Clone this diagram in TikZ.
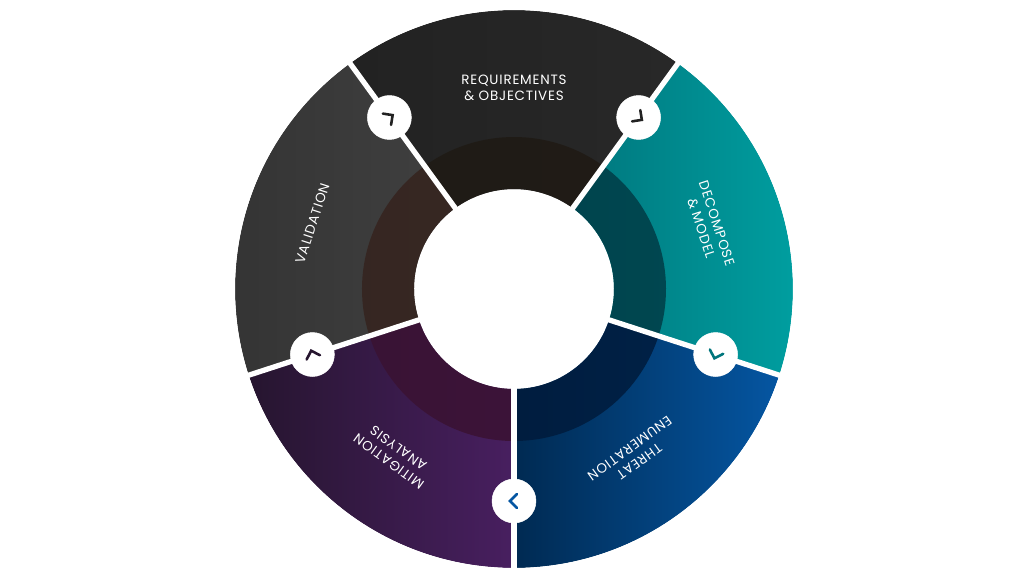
\documentclass[tikz,border=0pt]{standalone}
\usepackage{fontspec}
\setsansfont[LetterSpace=6]{Poppins}
\usepackage{tikz}

\definecolor{topA}{HTML}{222222}\definecolor{topB}{HTML}{282828}\definecolor{topI}{HTML}{1F1A14}
\definecolor{decA}{HTML}{00767D}\definecolor{decB}{HTML}{00A2A3}\definecolor{decI}{HTML}{003C46}
\definecolor{thrA}{HTML}{002A52}\definecolor{thrB}{HTML}{0556A2}\definecolor{thrI}{HTML}{001B3C}
\definecolor{mitA}{HTML}{26152F}\definecolor{mitB}{HTML}{481F60}\definecolor{mitI}{HTML}{3A1232}
\definecolor{valA}{HTML}{333333}\definecolor{valB}{HTML}{404040}\definecolor{valI}{HTML}{35231E}

\tikzset{
	steplabel/.style={text=white, font=\sffamily\fontsize{11.5}{14}\selectfont, align=center},
	gapline/.style={white, line width=4.5pt},
	markdot/.style={fill=white, draw=white},
	chev/.style={line width=2.2pt, line cap=round, line join=miter}
}

\begin{document}
\begin{tikzpicture}[scale=0.03]
	\useasboundingbox[fill=white] (-514,-287) rectangle (510,289);

	% ring segments
	\foreach \a/\ca/\cb/\ci in {54/topA/topB/topI, -18/decA/decB/decI, -90/thrA/thrB/thrI, 198/mitA/mitB/mitI, 126/valA/valB/valI}{
		\shade[left color=\ca, right color=\cb]
			(\a:279) arc[start angle=\a, end angle=\a+72, radius=279]
			-- (\a+72:100) arc[start angle=\a+72, end angle=\a, radius=100] -- cycle;
		\fill[\ci, opacity=0.85]
			(\a:152) arc[start angle=\a, end angle=\a+72, radius=152]
			-- (\a+72:100) arc[start angle=\a+72, end angle=\a, radius=100] -- cycle;
	}

	% gaps
	\foreach \b in {126,54,-18,-90,198}
		\draw[gapline] (\b:95) -- (\b:285);
	\draw[white, line width=3.5pt] (0,0) circle [radius=281];

	% labels
	\node[steplabel] (req) at (90:201) {REQUIREMENTS\\\& OBJECTIVES};
	\node[steplabel, rotate=-72] (dec) at (18:205) {DECOMPOSE\\\& MODEL};
	\node[steplabel, rotate=-144] (thr) at (-54:205) {THREAT\\ENUMERATION};
	\node[steplabel, rotate=144] (mit) at (-126:205) {MITIGATION\\ANALYSIS};
	\node[steplabel, rotate=72] (val) at (162:212) {VALIDATION};

	% markers
	\foreach \b/\cc in {126/topA, 54/topA, -18/decA, -90/thrB, 198/mitA}{
		\node[markdot, circle, minimum size=44*0.03cm, inner sep=0] (m\b) at (\b:212) {};
		\begin{scope}[shift={(\b:212)}, rotate=\b-90]
			\draw[chev, \cc] (-3,7) -- (4,0) -- (-3,-7);
		\end{scope}
	}
\end{tikzpicture}
\end{document}
